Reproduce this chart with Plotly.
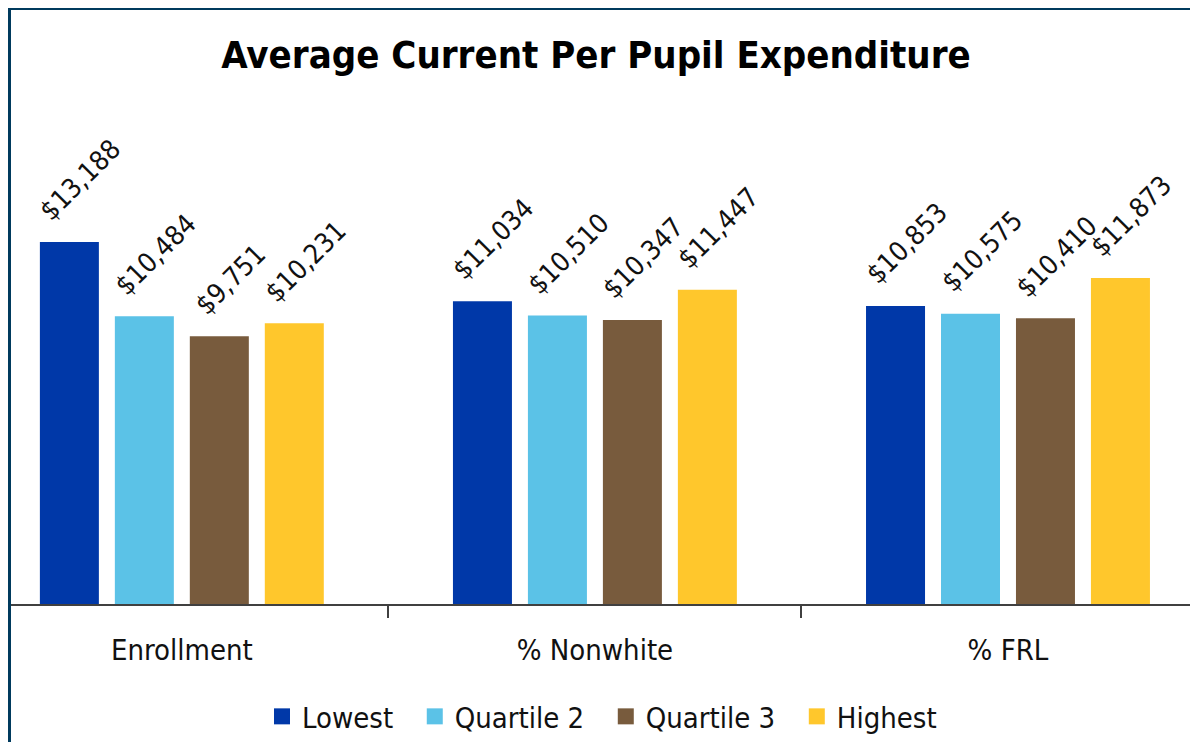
import plotly.graph_objects as go

categories = ["Enrollment", "% Nonwhite", "% FRL"]
series_names = ["Lowest", "Quartile 2", "Quartile 3", "Highest"]
lowest = [13188, 11034, 10853]
quartile2 = [10484, 10510, 10575]
quartile3 = [9751, 10347, 10410]
highest = [10231, 11447, 11873]
colors = ["#0038A8", "#5BC2E7", "#785B3D", "#FFC72C"]

OFF = 8  # page body margin
W, H = 1198 - OFF, 742 - OFF
L, T = 10 - OFF, 100 - OFF
AX = 604 - OFF
R, B = 0, H - AX
pw, ph = W - L - R, H - T - B

XR = [-0.416, 2.46]
BARGAP, GROUPGAP = 0.274, 0.213
font = "DejaVu Sans Condensed, Liberation Sans, Arial, sans-serif"

all_series = [lowest, quartile2, quartile3, highest]
fig = go.Figure()
for name, vals, col in zip(series_names, all_series, colors):
    fig.add_trace(go.Bar(
        name=name, x=categories, y=vals, marker_color=col, marker_line_width=0,
        showlegend=False,
    ))
# legend entries with larger square swatches
for i, (name, col) in enumerate(zip(series_names, colors)):
    pad = "\u00a0\u00a0" if i < len(series_names) - 1 else ""
    fig.add_trace(go.Scatter(
        name=name + pad, x=[None], y=[None], mode="markers",
        marker=dict(symbol="square", size=18, color=col), showlegend=True,
    ))

# value labels, rotated, above each bar
unit_px = pw / (XR[1] - XR[0])
slot_px = unit_px * (1 - BARGAP) / len(all_series)
annotations = []
for s, vals in enumerate(all_series):
    off = (s - (len(all_series) - 1) / 2) * slot_px
    for c, v in zip(categories, vals):
        annotations.append(dict(
            x=c, y=v, xref="x", yref="y", text=f"${v:,}", showarrow=False,
            textangle=-45, xanchor="center", yanchor="bottom",
            xshift=off + 11, yshift=13,
            font=dict(family=font, size=27, color="#111111"),
        ))

ymax = max(lowest) * (AX - T) / (604 - 242)

def px_x(p):
    return (p - OFF - L) / pw

def px_y(p):
    return (AX - (p - OFF)) / ph

fig.update_layout(
    width=W, height=H,
    margin=dict(l=L, r=R, t=T, b=B),
    paper_bgcolor="white", plot_bgcolor="white",
    barmode="group", bargap=BARGAP, bargroupgap=GROUPGAP,
    title=dict(text="<b>Average Current Per Pupil Expenditure</b>",
               x=(596 - OFF) / W, xanchor="center", y=1 - (55 - OFF) / H, yanchor="middle",
               font=dict(family=font, size=38, color="black")),
    xaxis=dict(range=XR, showline=True, linecolor="#404040", linewidth=2,
               ticks="outside", tickson="boundaries", ticklen=12, tickwidth=2, tickcolor="#404040",
               ticklabelstandoff=19,
               tickfont=dict(family=font, size=29, color="#111111"), showgrid=False),
    yaxis=dict(range=[0, ymax], visible=False, showgrid=False),
    showlegend=True,
    legend=dict(orientation="h", x=(602 - OFF - L) / pw, xanchor="center", y=px_y(717), yanchor="middle",
                font=dict(family=font, size=29, color="#111111"), itemwidth=30,
                traceorder="normal"),
    annotations=annotations,
    shapes=[
        dict(type="line", xref="paper", yref="paper", x0=px_x(9.5), x1=px_x(9.5),
             y0=px_y(8), y1=px_y(760), line=dict(color="#003A5D", width=3)),
        dict(type="line", xref="paper", yref="paper", x0=px_x(8), x1=px_x(1220),
             y0=px_y(9), y1=px_y(9), line=dict(color="#003A5D", width=2)),
    ],
)
fig.write_html("out.html")
